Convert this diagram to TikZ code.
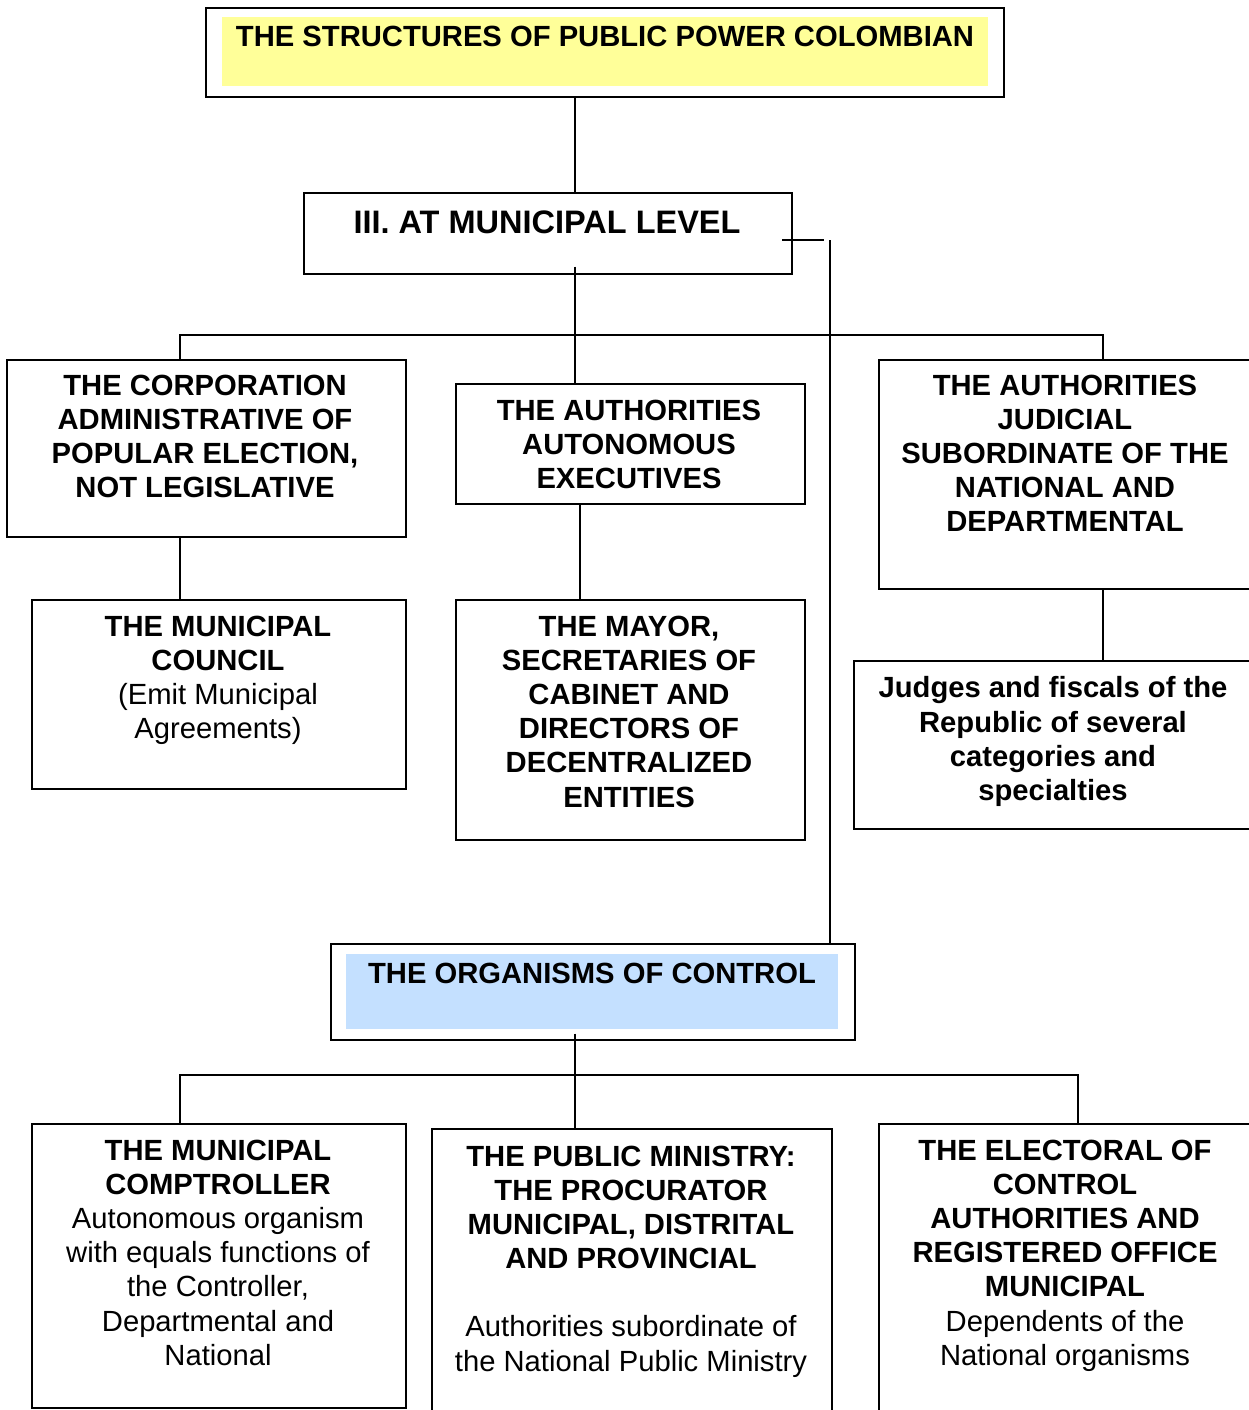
\documentclass[tikz,border=0pt]{standalone}
\usepackage{fontspec}
\setmainfont{Liberation Sans}
\definecolor{yel}{RGB}{255,255,153}
\definecolor{blu}{RGB}{196,224,255}
\tikzset{
  box/.style={draw, line width=1.6pt, inner sep=0pt, anchor=north west},
  fillbox/.style={fill=#1, draw=none, inner sep=0pt, anchor=north west},
  txt/.style={inner sep=0pt, align=center, anchor=north, font=\fontsize{29.2}{34.2}\selectfont\bfseries},
  bigtxt/.style={txt, font=\fontsize{32.5}{38}\selectfont\bfseries},
  conn/.style={line width=1.4pt},
}
\newcommand\rg[1]{{\mdseries #1}}
\begin{document}
\begin{tikzpicture}[x=1pt,y=-1pt]
\useasboundingbox (0,0) rectangle (1249,1410);
\fill[white] (0,0) rectangle (1249,1410);
\clip (0,0) rectangle (1249,1410);
% fills
\node[fillbox=yel, minimum width=766pt, minimum height=69pt] (topfill) at (222,17) {};
\node[fillbox=blu, minimum width=492pt, minimum height=75pt] (orgfill) at (346,954) {};
% boxes
\node[box, minimum width=798pt, minimum height=89pt] (top) at (205,7) {};
\node[box, minimum width=488pt, minimum height=81pt] (lvl) at (303,192) {};
\node[box, minimum width=399pt, minimum height=177pt] (l1) at (6,359) {};
\node[box, minimum width=349pt, minimum height=120pt] (m1) at (455,383) {};
\node[box, minimum width=420pt, minimum height=229pt] (r1) at (878,359) {};
\node[box, minimum width=374pt, minimum height=189pt] (l2) at (31,599) {};
\node[box, minimum width=349pt, minimum height=240pt] (m2) at (455,599) {};
\node[box, minimum width=440pt, minimum height=168pt] (r2) at (853,660) {};
\node[box, minimum width=524pt, minimum height=96pt] (org) at (330,943) {};
\node[box, minimum width=374pt, minimum height=284pt] (b1) at (31,1123) {};
\node[box, minimum width=400pt, minimum height=320pt] (b2) at (431,1128) {};
\node[box, minimum width=420pt, minimum height=320pt] (b3) at (878,1123) {};
% texts
\node[txt] (ttop) at (605,25.5) {THE STRUCTURES OF PUBLIC POWER COLOMBIAN};
\node[bigtxt] (tlvl) at (547,210.4) {III. AT MUNICIPAL LEVEL};
\node[txt] (tl1) at (205,374.5) {THE CORPORATION\\ADMINISTRATIVE OF\\POPULAR ELECTION,\\NOT LEGISLATIVE};
\node[txt] (tm1) at (629,399.5) {THE AUTHORITIES\\AUTONOMOUS\\EXECUTIVES};
\node[txt] (tr1) at (1065,374.5) {THE AUTHORITIES\\JUDICIAL\\SUBORDINATE OF THE\\NATIONAL AND\\DEPARTMENTAL};
\node[txt] (tl2) at (218,615.5) {THE MUNICIPAL\\COUNCIL\\\rg{(Emit Municipal}\\\rg{Agreements)}};
\node[txt] (tm2) at (629,615.5) {THE MAYOR,\\SECRETARIES OF\\CABINET AND\\DIRECTORS OF\\DECENTRALIZED\\ENTITIES};
\node[txt] (tr2) at (1053,676.5) {Judges and fiscals of the\\Republic of several\\categories and\\specialties};
\node[txt] (torg) at (592,962.5) {THE ORGANISMS OF CONTROL};
\node[txt] (tb1) at (218,1139.5) {THE MUNICIPAL\\COMPTROLLER\\\rg{Autonomous organism}\\\rg{with equals functions of}\\\rg{the Controller,}\\\rg{Departmental and}\\\rg{National}};
\node[txt] (tb2) at (631,1145.5) {THE PUBLIC MINISTRY:\\THE PROCURATOR\\MUNICIPAL, DISTRITAL\\AND PROVINCIAL\\[34pt]\rg{Authorities subordinate of}\\\rg{the National Public Ministry}};
\node[txt] (tb3) at (1065,1139.5) {THE ELECTORAL OF\\CONTROL\\AUTHORITIES AND\\REGISTERED OFFICE\\MUNICIPAL\\\rg{Dependents of the}\\\rg{National organisms}};
% connector helper coordinates
\coordinate (xs) at (575,0);
\coordinate (xl) at (180,0);
\coordinate (xr) at (1103,0);
\coordinate (xm) at (580,0);
\coordinate (xbr) at (1078,0);
\coordinate (bus1) at (0,335);
\coordinate (bus2) at (0,1075);
\coordinate (stubA) at (782,240);
\coordinate (stubB) at (824,240);
\coordinate (vx) at (830,240);
\coordinate (lvlin) at ([yshift=8pt]lvl.south);
\coordinate (orgin) at ([yshift=7pt]org.south);
% connectors
\draw[conn] (top.south -| xs) -- (lvl.north -| xs);
\draw[conn] (lvlin -| xs) -- (m1.north -| xs);
\draw[conn] (l1.north -| xl) -- (bus1 -| xl) -- (bus1 -| xr) -- (r1.north -| xr);
\draw[conn] (l1.south -| xl) -- (l2.north -| xl);
\draw[conn] (m1.south -| xm) -- (m2.north -| xm);
\draw[conn] (r1.south -| xr) -- (r2.north -| xr);
\draw[conn] (stubA) -- (stubB);
\draw[conn] (vx) -- (org.north -| vx);
\draw[conn] (orgin -| xs) -- (b2.north -| xs);
\draw[conn] (b1.north -| xl) -- (bus2 -| xl) -- (bus2 -| xbr) -- (b3.north -| xbr);
\end{tikzpicture}
\end{document}
